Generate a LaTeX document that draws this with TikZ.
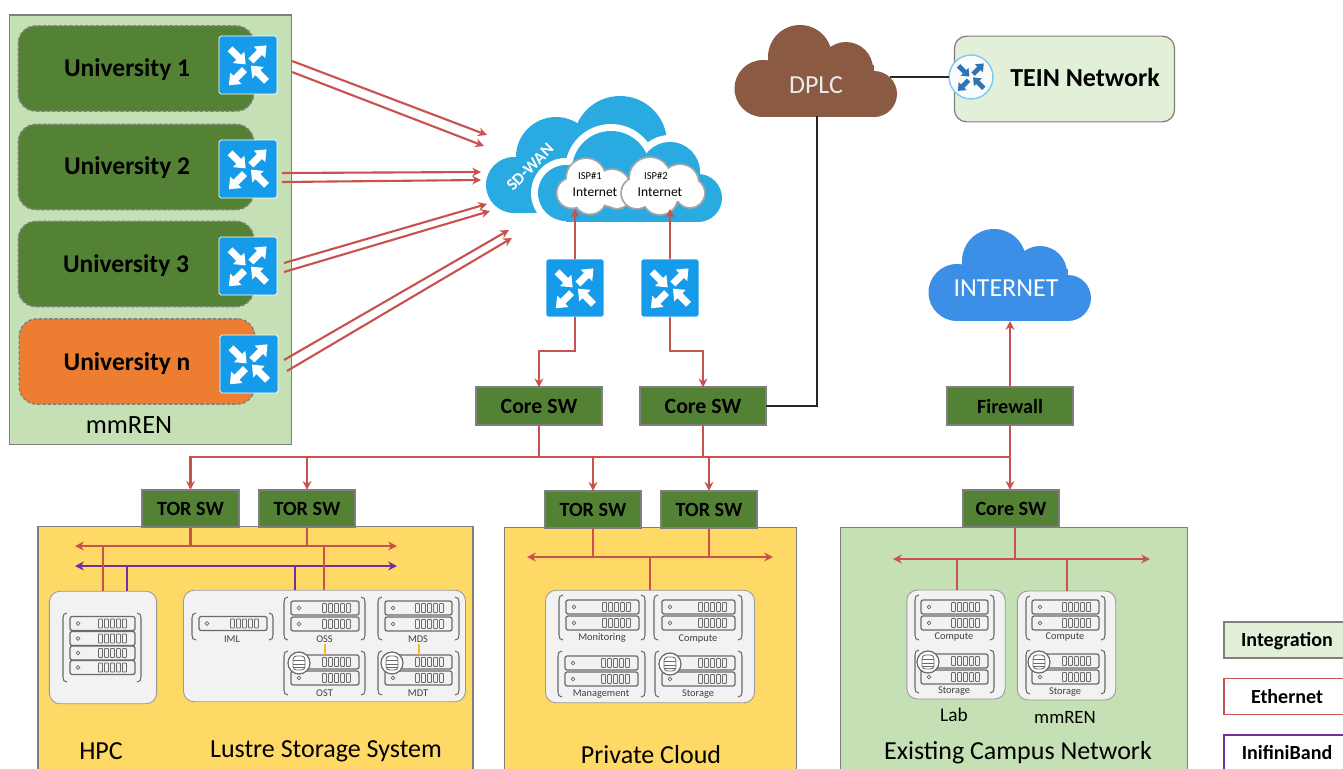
\documentclass[tikz,border=0pt]{standalone}
\usepackage{fontspec}
\setmainfont{Carlito}
\usetikzlibrary{arrows.meta,calc}
\definecolor{cred}{HTML}{C9524E}
\definecolor{cpur}{HTML}{7030A0}
\definecolor{cyel}{HTML}{FFD966}
\definecolor{cgrn}{HTML}{C5E0B4}
\definecolor{clgr}{HTML}{E2EFD9}
\definecolor{cdgr}{HTML}{548235}
\definecolor{corg}{HTML}{ED7D31}
\definecolor{cblu}{HTML}{169BEB}
\definecolor{cwan}{HTML}{29ABE2}
\definecolor{cint}{HTML}{3C8FE6}
\definecolor{cbrn}{HTML}{8B5A42}
\definecolor{cgry}{HTML}{7F7F7F}
\definecolor{csrv}{HTML}{6A6A6A}
\definecolor{cpan}{HTML}{F2F2F2}
\definecolor{cori}{HTML}{F5B92E}
\definecolor{cico}{HTML}{2E75B6}
\tikzset{
  zone/.style={draw=cgry,line width=.7pt,fill=#1,inner sep=0,outer sep=0},
  swbox/.style={draw=cgry,line width=1pt,fill=cdgr,inner sep=0,outer sep=0,minimum height=21.3pt,font=\fontsize{11.5}{13}\selectfont\bfseries},
  uni/.style={draw=cgry,dash pattern=on 2pt off 1pt,line width=.8pt,fill=#1,rounded corners=10pt,inner sep=0,outer sep=0,minimum width=134pt,minimum height=48.5pt},
  unitext/.style={font=\fontsize{14.5}{16}\selectfont\bfseries,inner sep=0},
  panel/.style={draw=gray!80,line width=.5pt,fill=cpan,rounded corners=6pt},
  sv/.style={draw=csrv,line width=.7pt,rounded corners=1.2pt},
  brk/.style={draw=csrv,line width=.6pt},
  tiny/.style={font=\fontsize{5.9}{7}\selectfont,text=black!75,inner sep=0},
  bigt/.style={font=\fontsize{14.8}{17}\selectfont,inner sep=0},
  eth/.style={draw=cred,line width=1.2pt},
  ethar/.style={eth,-{Stealth[length=5pt,width=5pt]}},
  ethbus/.style={eth,{Stealth[length=5pt,width=5pt]}-{Stealth[length=5pt,width=5pt]}},
  ibl/.style={draw=cpur,line width=1.2pt},
  iblbus/.style={ibl,{Stealth[length=5pt,width=5pt]}-{Stealth[length=5pt,width=5pt]}},
  blk/.style={draw=black!85,line width=1.2pt},
  ori/.style={draw=cori,line width=.8pt},
  legend/.style={line width=1.1pt,fill=#1,inner sep=0,outer sep=0,minimum width=76pt,minimum height=20.5pt}
}
% one arrow of a switch icon
\newcommand{\swarr}[7]{\fill[#7,shift={(#1,#2)},shift={($#3*(#4,#5)$)},rotate=#6,scale=#3]
  (0,-.12)--(.42,-.12)--(.42,-.28)--(.76,0)--(.42,.28)--(.42,.12)--(0,.12)--cycle;}
\newcommand{\swarrows}[4]{%
  \swarr{#1}{#2}{#3}{-.62}{-.56}{-45}{#4}%
  \swarr{#1}{#2}{#3}{.10}{-.14}{45}{#4}%
  \swarr{#1}{#2}{#3}{-.12}{.16}{225}{#4}%
  \swarr{#1}{#2}{#3}{.64}{.56}{135}{#4}}
\newcommand{\swicon}[3]{%
  \node[draw=white,line width=.4pt,fill=cblu,rounded corners=1pt,minimum size=33pt,inner sep=0,outer sep=0] (#1) at (#2,#3) {};
  \swarrows{#2}{#3}{29}{white}}
% server: x1,x2,yc
\newcommand{\srv}[3]{%
  \draw[sv] (#1,#3-7) rectangle (#2,#3+7);
  \draw[csrv,line width=.45pt] (#1+8,#3) circle (1.9);
  \foreach \k in {0,...,4} {\draw[csrv,line width=.5pt,rounded corners=.4pt] (#2-36.5+\k*6,#3-4.5) rectangle ++(4,9);}}
\newcommand{\brkt}[4]{%
  \draw[brk] (#1+4,#3) .. controls (#1+1,#3) and (#1,#3+2) .. (#1,#3+5) -- (#1,#4-5) .. controls (#1,#4-2) and (#1+1,#4) .. (#1+4,#4);
  \draw[brk] (#2-4,#3) .. controls (#2-1,#3) and (#2,#3+2) .. (#2,#3+5) -- (#2,#4-5) .. controls (#2,#4-2) and (#2-1,#4) .. (#2-4,#4);}
\newcommand{\dbi}[2]{%
  \draw[draw=csrv,line width=.7pt,fill=white] (#1,#2) circle (11);
  \draw[csrv,line width=.5pt,rounded corners=2pt,fill=white] (#1-6,#2-7) rectangle (#1+6,#2+7);
  \draw[csrv,line width=.5pt] (#1-6,#2-3) -- (#1+6,#2-3) (#1-6,#2+1) -- (#1+6,#2+1) (#1-6,#2+4.5) -- (#1+6,#2+4.5);}
\newcommand{\dblsrv}[4]{\srv{#1}{#2}{#3}\srv{#1}{#2}{#4}}
\newcommand{\bigcloud}[3]{\begin{scope}[shift={(#1,#2)}]
  \foreach \cx/\cy/\cr in {28/63.5/28.5,65/32/32,111/44/27,139/69/23} {\fill[#3] (\cx,\cy) circle (\cr);}
  \fill[#3] (28,40) rectangle (139,92);
\end{scope}}
\newcommand{\smcloud}[4]{\begin{scope}[shift={(#1,#2)}]
  \foreach \w/\c in {3.6/cgry!70,0/white} {
  \foreach \cx/\cy/\cr in {#3} {\fill[\c] (\cx,\cy) circle ({\cr+\w/2});}
  \fill[\c] #4;}
\end{scope}}
\begin{document}
\begin{tikzpicture}[x=0.02cm,y=-0.02cm]
\clip (0,0) rectangle (1343,768);
\fill[white] (0,0) rectangle (1343,768);
% mmREN panel
\node[zone=cgrn,minimum width=160.4pt,minimum height=244.3pt] (ren) at (150.5,229.5) {};
\node[uni=cdgr] (u1) at (136,68.5) {};
\node[uni=cdgr] (u2) at (136,167) {};
\node[uni=cdgr] (u3) at (136,264) {};
\node[uni=corg] (un) at (137,361.5) {};
\node[unitext] (t1) at (127,70) {University 1};
\node[unitext] (t2) at (127,168) {University 2};
\node[unitext] (t3) at (126,266) {University 3};
\node[unitext] (tn) at (127,364) {University n};
\node[inner sep=0,font=\fontsize{15}{17}\selectfont] (tren) at (129,425) {mmREN};
\swicon{s1}{248}{65}
\swicon{s2}{248}{169}
\swicon{s3}{248}{266}
\swicon{sn}{249}{364}
% SD-WAN clouds
\foreach \cx/\cy/\cr in {514/185/28,556/157/40,620/143/47}{\fill[cwan] (\cx,\cy) circle (\cr);}
\fill[cwan] (514,160) rectangle (650,213);
\foreach \w/\c in {14/white,0/cwan}{
  \foreach \cx/\cy/\cr in {566/193/28,611/170/39,670/172/30,698/198/24}{\fill[\c] (\cx,\cy) circle ({\cr+\w/2});}
  \fill[\c] (566,172) rectangle (698,{222+\w/2});
}
\fill[cwan] (566,172) rectangle (698,222);
\fill[white] (530,222) rectangle (720,232);
\node[rotate=45,text=white,font=\fontsize{9.5}{11}\selectfont\bfseries,inner sep=0] (wan) at (530,167) {SD-WAN};
\smcloud{557}{159}{29/19/19,55/29/18,15/34/14.5,33/39/15.5,60/36/13}{(15,30) rectangle (58,40)}
\smcloud{622}{159}{28/19/20,58/24/18,68/34/14,15/34/15,38/38/17}{(15,26) rectangle (62,42)}
\node[inner sep=0,font=\fontsize{6}{7}\selectfont] (isp1) at (590,176) {ISP\#1};
\node[inner sep=0,font=\fontsize{7.7}{9}\selectfont] (int1) at (595,192) {Internet};
\node[inner sep=0,font=\fontsize{6}{7}\selectfont] (isp2) at (656,176) {ISP\#2};
\node[inner sep=0,font=\fontsize{7.7}{9}\selectfont] (int2) at (660,192) {Internet};
\swicon{wa}{575}{288}
\swicon{wb}{670}{288}
% DPLC, TEIN, INTERNET
\bigcloud{735}{25}{cbrn}
\node[text=white!92!black,font=\fontsize{14.8}{17}\selectfont,inner sep=0] (dplc) at (816,85) {DPLC};
\bigcloud{929}{229}{cint}
\node[text=white,font=\fontsize{14.8}{17}\selectfont,inner sep=0] (inet) at (1006,288) {INTERNET};
\node[draw=cgry,line width=.7pt,fill=clgr,rounded corners=7pt,minimum width=125.3pt,minimum height=48.8pt,inner sep=0,outer sep=0] (tein) at (1064.5,79) {};
\node[font=\fontsize{14.8}{17}\selectfont\bfseries,inner sep=0] (teint) at (1085,77) {TEIN Network};
\node[circle,draw=cblu!55,line width=.8pt,fill=white!97!gray,minimum size=25pt,inner sep=0,outer sep=0] (teinr) at (971,77) {};
\swarrows{971}{77}{20}{cico}
% core switches
\node[swbox,minimum width=71.4pt,font=\fontsize{12.4}{14}\selectfont\bfseries] (c1) at (539,406) {Core SW};
\node[swbox,minimum width=71.4pt,font=\fontsize{12.4}{14}\selectfont\bfseries] (c2) at (703,406) {Core SW};
\node[swbox,minimum width=71.4pt] (fw) at (1010,406) {Firewall};
% zones
\node[zone=cyel,minimum width=247.7pt,minimum height=170pt] (zh) at (255.5,676) {};
\node[zone=cyel,minimum width=166pt,minimum height=170pt] (zp) at (650.5,677) {};
\node[zone=cgrn,minimum width=197.3pt,minimum height=170pt] (zc) at (1014,677) {};
\node[swbox,minimum width=55pt] (t1a) at (190.5,508.5) {TOR SW};
\node[swbox,minimum width=55pt] (t1b) at (307,508.5) {TOR SW};
\node[swbox,minimum width=55pt] (t2a) at (593,509.5) {TOR SW};
\node[swbox,minimum width=55pt] (t2b) at (709,509.5) {TOR SW};
\node[swbox,minimum width=55pt] (c3) at (1011,508.5) {Core SW};
% panels
\node[panel,minimum width=61pt,minimum height=64pt,inner sep=0,outer sep=0] (phpc) at (103,647.5) {};
\node[panel,minimum width=160.5pt,minimum height=63.5pt,inner sep=0,outer sep=0] (plus) at (324.5,646) {};
\node[panel,minimum width=119pt,minimum height=64pt,inner sep=0,outer sep=0] (ppc) at (650,646.5) {};
\node[panel,minimum width=56pt,minimum height=62pt,inner sep=0,outer sep=0] (plab) at (956,644.5) {};
\node[panel,minimum width=56pt,minimum height=62pt,inner sep=0,outer sep=0] (pmm) at (1066.5,645.5) {};
% HPC
\brkt{63}{141}{613}{682}
\srv{70}{135}{623.5}\srv{70}{135}{638.5}\srv{70}{135}{653}\srv{70}{135}{667.5}
% Lustre
\brkt{192}{273}{613}{640}
\srv{199}{267}{623.5}
\node[tiny] (liml) at (232,639) {IML};
\brkt{284}{365}{597}{640}
\dblsrv{291}{359}{608}{624}
\node[tiny] (loss) at (324.5,639) {OSS};
\brkt{284}{365}{651}{695}
\dblsrv{291}{359}{662}{678}
\dbi{299}{663}
\node[tiny] (lost) at (324.5,693) {OST};
\brkt{378}{459}{597}{640}
\dblsrv{385}{452}{608}{624}
\node[tiny] (lmds) at (418,639) {MDS};
\brkt{378}{459}{651}{695}
\dblsrv{385}{452}{662}{678}
\dbi{392}{663}
\node[tiny] (lmdt) at (418,693) {MDT};
\coordinate (oa) at (325,644);\coordinate (ob) at (325,655);
\coordinate (oc) at (419,644);\coordinate (od) at (419,655);
% Private cloud
\brkt{559}{645}{595}{640}
\dblsrv{566}{639}{607}{623}
\node[tiny] (lmon) at (602,638) {Monitoring};
\brkt{654}{742}{595}{640}
\dblsrv{662}{735}{607}{623}
\node[tiny] (lcom) at (698,639) {Compute};
\brkt{558}{645}{651}{697}
\dblsrv{565}{638}{663}{679}
\node[tiny] (lman) at (601,694) {Management};
\brkt{655}{742}{651}{697}
\dblsrv{662}{735}{663}{679}
\dbi{670}{664}
\node[tiny] (lsto) at (698,694) {Storage};
% Lab
\brkt{915}{994}{595}{640}
\dblsrv{921}{988}{607}{623}
\node[tiny] (llc) at (954,637) {Compute};
\brkt{915}{994}{650}{693}
\dblsrv{921}{988}{661}{677}
\dbi{928}{662}
\node[tiny] (lls) at (954,691) {Storage};
% mmREN
\brkt{1026}{1105}{596}{640}
\dblsrv{1032}{1099}{607}{623}
\node[tiny] (lmc) at (1065,637) {Compute};
\brkt{1026}{1105}{650}{694}
\dblsrv{1032}{1099}{661}{677}
\dbi{1039}{662}
\node[tiny] (lms) at (1065,692) {Storage};
% labels
\node[inner sep=0,font=\fontsize{14.8}{17}\selectfont] (lhpc) at (101,751) {HPC};
\node[bigt] (llus) at (326,751) {Lustre Storage System};
\node[bigt] (lpc) at (651,754.5) {Private Cloud};
\node[bigt] (lcn) at (1018,753) {Existing Campus Network};
\node[inner sep=0,font=\fontsize{11}{13}\selectfont] (llab) at (954,715) {Lab};
\node[inner sep=0,font=\fontsize{10.7}{12}\selectfont] (lmm) at (1065,717) {mmREN};
% legend
\node[legend=clgr,draw=cgry] (l1) at (1291,640) {};
\node[legend=white,draw=cred] (l2) at (1291,696.5) {};
\node[legend=white,draw=cpur] (l3) at (1291,753) {};
\node[inner sep=0,font=\fontsize{11.4}{13}\selectfont\bfseries] (l1t) at (1287,641) {Integration};
\node[inner sep=0,font=\fontsize{11.4}{13}\selectfont\bfseries] (l2t) at (1287,696.5) {Ethernet};
\node[inner sep=0,font=\fontsize{11.4}{13}\selectfont\bfseries] (l3t) at (1287,753) {InifiniBand};
% free ends
\coordinate (a1) at (292,61);\coordinate (b1) at (487,135);
\coordinate (a2) at (292,72);\coordinate (b2) at (484,146);
\coordinate (a3) at (282,173);\coordinate (b3) at (481,172);
\coordinate (a4) at (282,182);\coordinate (b4) at (481,180);
\coordinate (a5) at (284,263);\coordinate (b5) at (487,204);
\coordinate (a6) at (284,272);\coordinate (b6) at (490,211);
\coordinate (a7) at (284,360);\coordinate (b7) at (509,230);
\coordinate (a8) at (287,371);\coordinate (b8) at (512,238);
\foreach \i in {1,...,8}{\draw[ethar] (a\i) -- (b\i);}
\coordinate (i1) at (575,209);\coordinate (i2) at (670,209);
\draw[ethar] (wa.north) -- (i1);
\draw[ethar] (wb.north) -- (i2);
\draw[ethar] (wa.south) -- ++(0,34) -| (c1.north);
\draw[ethar] (wb.south) -- ++(0,34) -| (c2.north);
\coordinate (nb) at (1010,321);
\draw[ethar] (fw.north) -- (nb);
\coordinate (dp) at (817,116);\coordinate (dq) at (890,77);
\draw[blk] (c2.east) -| (dp);
\draw[blk] (dq) -- (teinr.west);
% distribution bus
\coordinate (bus) at (539,457);
\draw[eth] (c1.south) -- (bus);
\draw[ethar] (bus) -| (t1a.north);
\draw[ethar] (t1b.north |- bus) -- (t1b.north);
\draw[ethar] (bus) -| (t2a.north);
\draw[eth] (c2.south) -- (c2.south |- bus) -- (t2b.north |- bus) coordinate (bus2);
\draw[ethar] (bus2) -- (t2b.north);
\draw[eth] (bus) -- (fw.south |- bus);
\draw[ethar] (fw.south) -- (c3.north -| fw.south);
% HPC buses
\coordinate (hl) at (75,546);\coordinate (hr) at (397,546);
\coordinate (il) at (75,566);\coordinate (ir) at (397,566);
\draw[ethbus] (hl) -- (hr);
\draw[iblbus] (il) -- (ir);
\draw[eth] (t1a.south) -- (t1a.south |- hl);
\draw[eth] (t1b.south) -- (t1b.south |- hl);
\coordinate (e1) at (103,546);\coordinate (e2) at (324,546);
\coordinate (p1) at (127,566);\coordinate (p2) at (295,566);
\draw[eth] (e1) -- (e1 |- phpc.north);
\draw[ibl] (p1) -- (p1 |- phpc.north);
\draw[ibl] (p2) -- (p2 |- plus.north);
\draw[eth] (e2) -- (e2 |- plus.north);
\draw[ori] (oa) -- (ob);
\draw[ori] (oc) -- (od);
% Private cloud bus
\coordinate (pl) at (527,557);\coordinate (pr) at (773,557);
\draw[ethbus] (pl) -- (pr);
\draw[eth] (t2a.south) -- (t2a.south |- pl);
\draw[eth] (t2b.south) -- (t2b.south |- pl);
\draw[eth] (ppc.north |- pl) -- (ppc.north);
% campus bus
\coordinate (gl) at (893,559);\coordinate (gr) at (1150,559);
\draw[ethbus] (gl) -- (gr);
\coordinate (c3d) at (1015,527);
\draw[eth] (c3d) -- (c3d |- gl);
\coordinate (g1) at (957,559);\coordinate (g2) at (1067,559);
\draw[eth] (g1) -- (g1 |- plab.north);
\draw[eth] (g2) -- (g2 |- pmm.north);
\end{tikzpicture}
\end{document}
